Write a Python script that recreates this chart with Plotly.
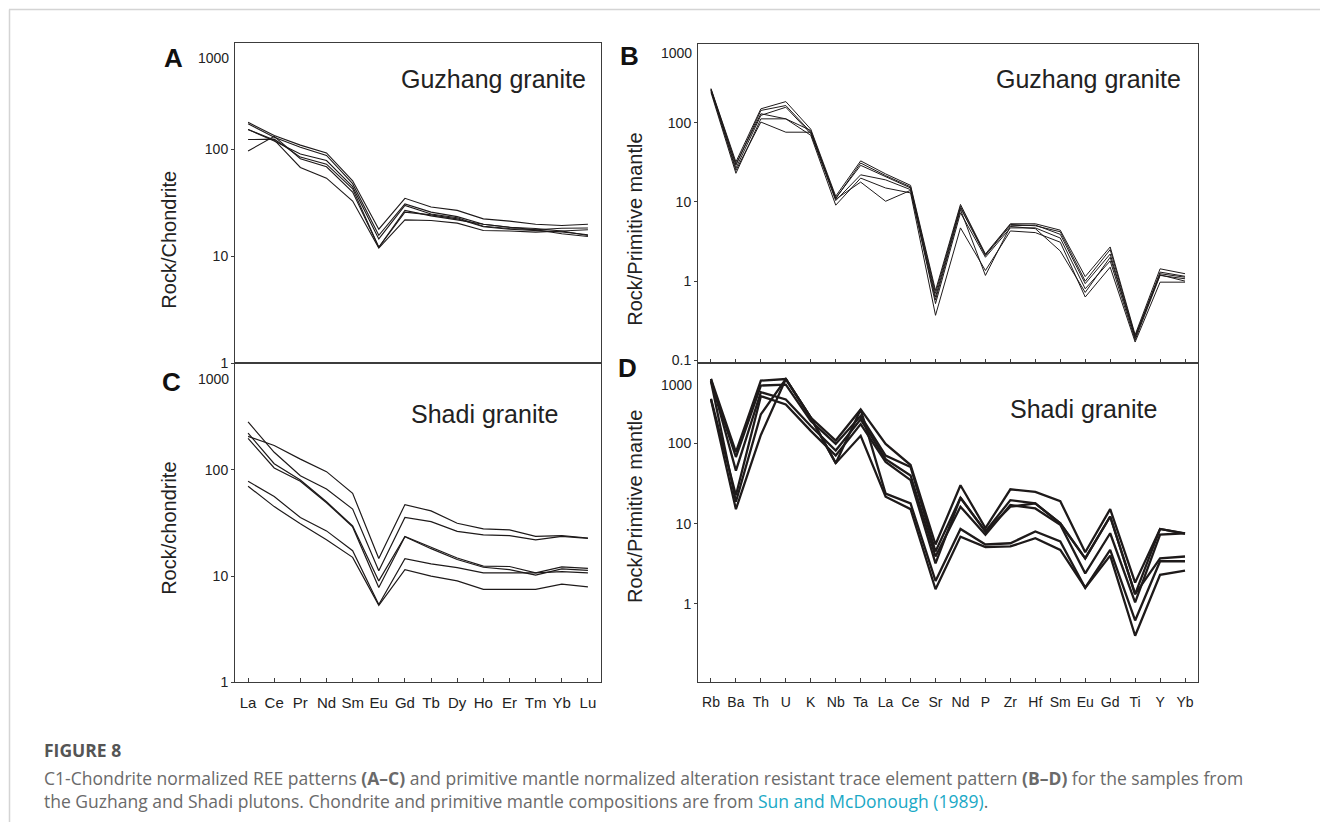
import plotly.graph_objects as go

# ---------------- data ----------------
ree = ["La", "Ce", "Pr", "Nd", "Sm", "Eu", "Gd", "Tb", "Dy", "Ho", "Er", "Tm", "Yb", "Lu"]
spider = ["Rb", "Ba", "Th", "U", "K", "Nb", "Ta", "La", "Ce", "Sr", "Nd", "P",
          "Zr", "Hf", "Sm", "Eu", "Gd", "Ti", "Y", "Yb"]

# Guzhang granite, chondrite-normalised REE
guzhang_ree_1 = [180, 135, 110, 93, 51, 18, 35, 29, 27, 22.5, 21.4, 20, 19.5, 20]
guzhang_ree_2 = [174, 130, 105, 88, 48, 15.8, 31, 26, 23.6, 20, 18.8, 18.3, 17.3, 15.7]
guzhang_ree_3 = [154, 120, 91, 79, 45, 14.6, 30, 25, 23, 19.2, 18.3, 17.8, 18.4, 18.5]
guzhang_ree_4 = [124, 125, 85, 73, 43, 12.2, 27, 24, 22, 20, 18.8, 17.8, 16.3, 15.4]
guzhang_ree_5 = [154, 123, 68, 54, 33, 12, 22, 21.7, 20.5, 17.5, 17.3, 16.9, 17.3, 17.8]
guzhang_ree_6 = [97, 133, 82, 69, 40, 12.2, 26, 24.5, 22.5, 19, 18, 17.5, 17, 16]

# Guzhang granite, primitive-mantle-normalised trace elements
guzhang_pm_1 = [271, 32, 150, 185, 83, 11.8, 33, 22.6, 16.2, 0.76, 9.3, 2.2, 5.3, 5.3, 4.4, 1.14, 2.7, 0.21, 1.43, 1.24]
guzhang_pm_2 = [262, 29, 143, 165, 76, 11.2, 29, 20.9, 15, 0.63, 8.4, 2.1, 5.0, 5.1, 3.9, 0.93, 2.2, 0.19, 1.24, 1.12]
guzhang_pm_3 = [254, 26.6, 124, 157, 73, 10.4, 22, 19, 14.3, 0.52, 7.3, 2.0, 4.7, 4.7, 3.5, 0.80, 1.8, 0.18, 1.18, 1.07]
guzhang_pm_4 = [242, 23, 112, 112, 69.5, 9.1, 20, 15, 13, 0.37, 4.7, 1.36, 4.3, 4.1, 3.1, 0.63, 1.5, 0.17, 0.97, 0.97]
guzhang_pm_5 = [258, 25, 102, 76, 76, 10.8, 17.8, 10.2, 14, 0.58, 8.0, 1.18, 4.9, 4.6, 2.4, 0.72, 2.0, 0.20, 1.2, 1.0]
guzhang_pm_6 = [266, 30, 130, 112, 80, 11, 31, 21.5, 15.5, 0.70, 8.8, 2.15, 5.2, 5.0, 4.2, 1.0, 2.5, 0.20, 1.3, 1.15]

# Shadi granite, chondrite-normalised REE
shadi_ree_1 = [206, 169, 126, 96, 60, 14.6, 47, 41, 31.4, 27.8, 27.2, 23.6, 24, 22.8]
shadi_ree_2 = [282, 146, 88, 66, 42.7, 11.2, 35.6, 32.5, 26.3, 24.4, 24, 21.9, 23.6, 22.6]
shadi_ree_3 = [221, 114, 80, 50, 29.6, 9, 23.6, 18.6, 14.8, 12.4, 12.3, 10.7, 12.2, 11.8]
shadi_ree_4 = [197, 104, 78, 49, 29, 7.8, 23.4, 18.1, 14.3, 12.1, 11.5, 10.2, 11.7, 11.3]
shadi_ree_5 = [78, 56, 35.5, 26.6, 17.3, 5.4, 14.6, 13, 12, 10.7, 10.7, 10.7, 11, 10.7]
shadi_ree_6 = [70, 45, 31, 22, 15, 5.3, 11.5, 10, 9, 7.5, 7.5, 7.5, 8.4, 7.9]

# Shadi granite, primitive-mantle-normalised trace elements
shadi_pm_1 = [640, 78, 611, 640, 211, 109, 267, 99, 54, 5.5, 30.2, 8.8, 26.9, 25, 19.1, 4.4, 15.2, 1.84, 8.6, 7.6]
shadi_pm_2 = [600, 68, 530, 545, 192, 99, 221, 71, 51, 4.5, 21.1, 8.0, 19.7, 17.9, 10.1, 3.7, 12.3, 1.32, 8.6, 7.5]
shadi_pm_3 = [640, 46, 438, 355, 166, 82, 201, 64, 40, 3.9, 16.3, 7.3, 17.1, 15.5, 9.7, 2.4, 7.6, 1.04, 7.3, 7.6]
shadi_pm_4 = [362, 22.7, 391, 308, 144, 71, 175, 59, 35, 3.2, 21.1, 8.0, 16.3, 17.9, 10.1, 3.7, 12.3, 1.32, 3.7, 3.9]
shadi_pm_5 = [600, 18.8, 232, 640, 211, 57, 267, 23.8, 17.9, 1.93, 8.6, 5.5, 5.7, 8.0, 6.0, 1.59, 4.7, 0.62, 3.4, 3.4]
shadi_pm_6 = [355, 15.2, 128, 640, 211, 57, 125, 21.7, 15.2, 1.52, 6.9, 5.1, 5.2, 6.6, 4.7, 1.59, 4.0, 0.40, 2.3, 2.6]

guzhang_ree = [guzhang_ree_1, guzhang_ree_2, guzhang_ree_3, guzhang_ree_4, guzhang_ree_5, guzhang_ree_6]
guzhang_pm = [guzhang_pm_1, guzhang_pm_2, guzhang_pm_3, guzhang_pm_4, guzhang_pm_5, guzhang_pm_6]
shadi_ree = [shadi_ree_1, shadi_ree_2, shadi_ree_3, shadi_ree_4, shadi_ree_5, shadi_ree_6]
shadi_pm = [shadi_pm_1, shadi_pm_2, shadi_pm_3, shadi_pm_4, shadi_pm_5, shadi_pm_6]

# ---------------- figure ----------------
W, H = 1320, 830
def px(x):
    return x / W
def py(y):
    return 1 - y / H

ARIAL = "Arial, Liberation Sans, Helvetica, sans-serif"
CAPTION = "Open Sans, Lato, sans-serif"
INK = "#1e1a1a"
FRAME = "#3c3c3c"

fig = go.Figure()

panels = [
    (guzhang_ree, ree, "x", "y", 1.1),
    (guzhang_pm, spider, "x2", "y2", 1.0),
    (shadi_ree, ree, "x3", "y3", 1.2),
    (shadi_pm, spider, "x4", "y4", 2.3),
]
for samples, cats, xa, ya, w in panels:
    for vals in samples:
        fig.add_trace(go.Scatter(
            x=cats, y=vals, mode="lines", xaxis=xa, yaxis=ya,
            line=dict(color=INK, width=w), hoverinfo="skip", showlegend=False,
        ))

left_dom = [px(235), px(601)]
right_dom = [px(698), px(1198)]
top_dom = [py(367), py(43)]
top_dom_b = [py(367), py(44)]
bot_dom = [py(689), py(367)]

def xaxis(domain, cats, rng, anchor, labels, font):
    return dict(
        domain=domain, anchor=anchor, type="category", categoryorder="array",
        categoryarray=cats, range=rng, showgrid=False, zeroline=False,
        showline=True, mirror=True, linecolor=FRAME, linewidth=1,
        ticks="inside" if labels is not None else "", ticklen=4, tickcolor=FRAME,
        showticklabels=bool(labels), tickfont=font, ticklabelstandoff=7,
    )

def yaxis(domain, rng, vals, anchor):
    return dict(
        domain=domain, anchor=anchor, type="log", range=rng,
        tickvals=vals, ticktext=[("%g" % v) for v in vals],
        showgrid=False, zeroline=False, showline=True, mirror=True,
        linecolor=FRAME, linewidth=1, ticks="outside", ticklen=3,
        tickcolor=FRAME, tickfont=dict(family=ARIAL, size=14, color="#222"),
    )

ree_font = dict(family=ARIAL, size=15, color="#222")
spider_font = dict(family=ARIAL, size=14, color="#222")

fig.update_layout(
    width=W, height=H, margin=dict(l=0, r=0, t=0, b=0),
    paper_bgcolor="white", plot_bgcolor="white", showlegend=False,
    xaxis=xaxis(left_dom, ree, [-0.5, 13.5], "y", None, ree_font),
    xaxis2=xaxis(right_dom, spider, [-0.52, 19.52], "y2", False, spider_font),
    xaxis3=xaxis(left_dom, ree, [-0.5, 13.5], "y3", True, ree_font),
    xaxis4=xaxis(right_dom, spider, [-0.52, 19.52], "y4", True, spider_font),
    yaxis=yaxis(top_dom, [0, 3], [1, 10, 100], "x"),
    yaxis2=yaxis(top_dom_b, [-1.04, 3], [0.1, 1, 10, 100], "x2"),
    yaxis3=yaxis(bot_dom, [0, 3], [1, 10, 100], "x3"),
    yaxis4=yaxis(bot_dom, [-0.98, 3], [0.1, 1, 10, 100], "x4"),
)

ann = []
# top "1000" labels, nudged down inside each panel
for yref, xl, shift in [("y", 231, -15), ("y2", 694, -9), ("y3", 231, -16), ("y4", 694, -22)]:
    ann.append(dict(text="1000", xref="paper", yref=yref, x=px(xl), y=3, yshift=shift,
                    xanchor="right", yanchor="middle", showarrow=False,
                    font=dict(family=ARIAL, size=14, color="#222")))

# panel letters
for letter, x, y in [("A", 173, 59), ("B", 629, 57), ("C", 171, 386), ("D", 627, 372)]:
    ann.append(dict(text="<b>%s</b>" % letter, xref="paper", yref="paper", x=px(x), y=py(y),
                    xanchor="center", yanchor="middle", showarrow=False,
                    font=dict(family=ARIAL, size=26, color="#111")))

# panel titles
for text, x, y, anchor in [("Guzhang granite", 588, 80, "right"),
                           ("Guzhang granite", 1183, 80, "right"),
                           ("Shadi granite", 409, 418, "left"),
                           ("Shadi granite", 1008, 413, "left")]:
    ann.append(dict(text=text, xref="paper", yref="paper", x=px(x), y=py(y),
                    xanchor=anchor, yanchor="middle", showarrow=False,
                    font=dict(family=ARIAL, size=25, color="#222")))

# y-axis titles
for text, x, y in [("Rock/Chondrite", 169, 242), ("Rock/Primitive mantle", 635, 232),
                   ("Rock/chondrite", 169, 534), ("Rock/Primitive mantle", 635, 512)]:
    ann.append(dict(text=text, xref="paper", yref="paper", x=px(x), y=py(y), textangle=-90,
                    xanchor="center", yanchor="middle", showarrow=False,
                    font=dict(family=ARIAL, size=20, color="#222")))

# caption
ann.append(dict(text="<b>FIGURE 8</b>", xref="paper", yref="paper", x=px(42), y=py(757),
                xanchor="left", yanchor="middle", showarrow=False,
                font=dict(family=CAPTION, size=17.5, color="#555")))
caption = ("C1-Chondrite normalized REE patterns <b>(A–C)</b> and primitive mantle normalized "
           "alteration resistant trace element pattern <b>(B–D)</b> for the samples from<br>"
           "the Guzhang and Shadi plutons. Chondrite and primitive mantle compositions are from "
           "<span style='color:#1aa9c6'>Sun and McDonough (1989)</span>.")
ann.append(dict(text=caption, xref="paper", yref="paper", x=px(42), y=py(797),
                xanchor="left", yanchor="middle", align="left", showarrow=False,
                font=dict(family=CAPTION, size=17.5, color="#6a6a6a")))

fig.update_layout(annotations=ann)

# light page frame
fig.update_layout(shapes=[
    dict(type="line", xref="paper", yref="paper", x0=px(9), x1=1, y0=py(9.5), y1=py(9.5),
         line=dict(color="#d4d4d4", width=1.5)),
    dict(type="line", xref="paper", yref="paper", x0=px(9.5), x1=px(9.5), y0=py(9.5), y1=0,
         line=dict(color="#d4d4d4", width=1.5)),
])

fig.write_html("out.html")
